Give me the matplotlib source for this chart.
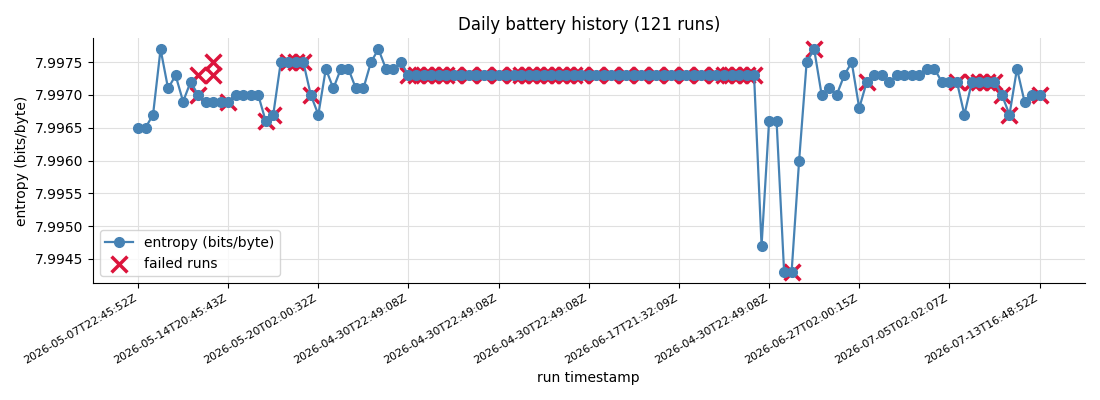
import matplotlib
matplotlib.use("Agg")
import matplotlib.pyplot as plt
from matplotlib.ticker import ScalarFormatter

# ---- data ----
entropy = (
    [7.9965, 7.9965, 7.9967, 7.9977, 7.9971, 7.9973, 7.9969, 7.9972, 7.9970, 7.9969,
     7.9969, 7.9969, 7.9969, 7.9970, 7.9970, 7.9970, 7.9970, 7.9966, 7.9967, 7.9975,
     7.9975, 7.9975, 7.9975, 7.9970, 7.9967, 7.9974, 7.9971, 7.9974, 7.9974, 7.9971,
     7.9971, 7.9975, 7.9977, 7.9974, 7.9974, 7.9975]
    + [7.9973] * 47
    + [7.9947, 7.9966, 7.9966, 7.9943, 7.9943, 7.9960, 7.9975, 7.9977, 7.9970, 7.9971,
       7.9970, 7.9973, 7.9975, 7.9968, 7.9972, 7.9973, 7.9973, 7.9972, 7.9973, 7.9973,
       7.9973, 7.9973, 7.9974, 7.9974, 7.9972, 7.9972, 7.9972, 7.9967, 7.9972, 7.9972,
       7.9972, 7.9972, 7.9970, 7.9967, 7.9974, 7.9969, 7.9970, 7.9970]
)

failed_idx = [8, 8, 10, 10, 12, 17, 18, 20, 21, 22, 23,
              36, 37, 38, 39, 40, 41, 42, 44, 46, 48, 50, 51, 52, 53, 54, 55, 56, 57,
              58, 59, 61, 63, 65, 67, 69, 71, 73, 75, 77, 78, 79, 80, 81, 82,
              87, 90, 97, 109, 111, 112, 113, 114, 115, 116, 120]
failed_val = [7.9970, 7.9973, 7.9975, 7.9973, 7.9969, 7.9966, 7.9967, 7.9975, 7.9975, 7.9975, 7.9970,
              7.9973, 7.9973, 7.9973, 7.9973, 7.9973, 7.9973, 7.9973, 7.9973, 7.9973, 7.9973,
              7.9973, 7.9973, 7.9973, 7.9973, 7.9973, 7.9973, 7.9973, 7.9973, 7.9973, 7.9973,
              7.9973, 7.9973, 7.9973, 7.9973, 7.9973, 7.9973, 7.9973, 7.9973, 7.9973, 7.9973,
              7.9973, 7.9973, 7.9973, 7.9973,
              7.9943, 7.9977, 7.9972, 7.9972, 7.9972, 7.9972, 7.9972, 7.9972, 7.9970, 7.9967, 7.9970]

tick_pos = [0, 12, 24, 36, 48, 60, 72, 84, 96, 108, 120]
tick_labels = ["2026-05-07T22:45:52Z", "2026-05-14T20:45:43Z", "2026-05-20T02:00:32Z",
               "2026-04-30T22:49:08Z", "2026-04-30T22:49:08Z", "2026-04-30T22:49:08Z",
               "2026-06-17T21:32:09Z", "2026-04-30T22:49:08Z", "2026-06-27T02:00:15Z",
               "2026-07-05T02:02:07Z", "2026-07-13T16:48:52Z"]

# ---- plot ----
fig = plt.figure(figsize=(11, 4), dpi=100)
ax = fig.add_axes([0.0845, 0.2925, 0.9015, 0.6125])

x = list(range(len(entropy)))
ax.plot(x, entropy, color="#4682b4", marker="o", markersize=7, linewidth=1.6,
        label="entropy (bits/byte)", zorder=2)
ax.scatter(failed_idx, failed_val, marker="x", color="#dc143c", s=130, linewidths=2.5,
           label="failed runs", zorder=1)

ax.set_title("Daily battery history (121 runs)", fontsize=12)
ax.set_xlabel("run timestamp", fontsize=10)
ax.set_ylabel("entropy (bits/byte)", fontsize=10)

ax.set_xticks(tick_pos)
ax.set_xticklabels(tick_labels, rotation=30, ha="right", fontsize=8)
fmt = ScalarFormatter(useOffset=False)
ax.yaxis.set_major_formatter(fmt)
ax.tick_params(axis="y", labelsize=10)

ax.grid(True, color="#e0e0e0", linewidth=0.8)
ax.set_axisbelow(True)
for s in ("top", "right"):
    ax.spines[s].set_visible(False)

ax.legend(loc="lower left", fontsize=10)

fig.savefig("out.png", dpi=100)
